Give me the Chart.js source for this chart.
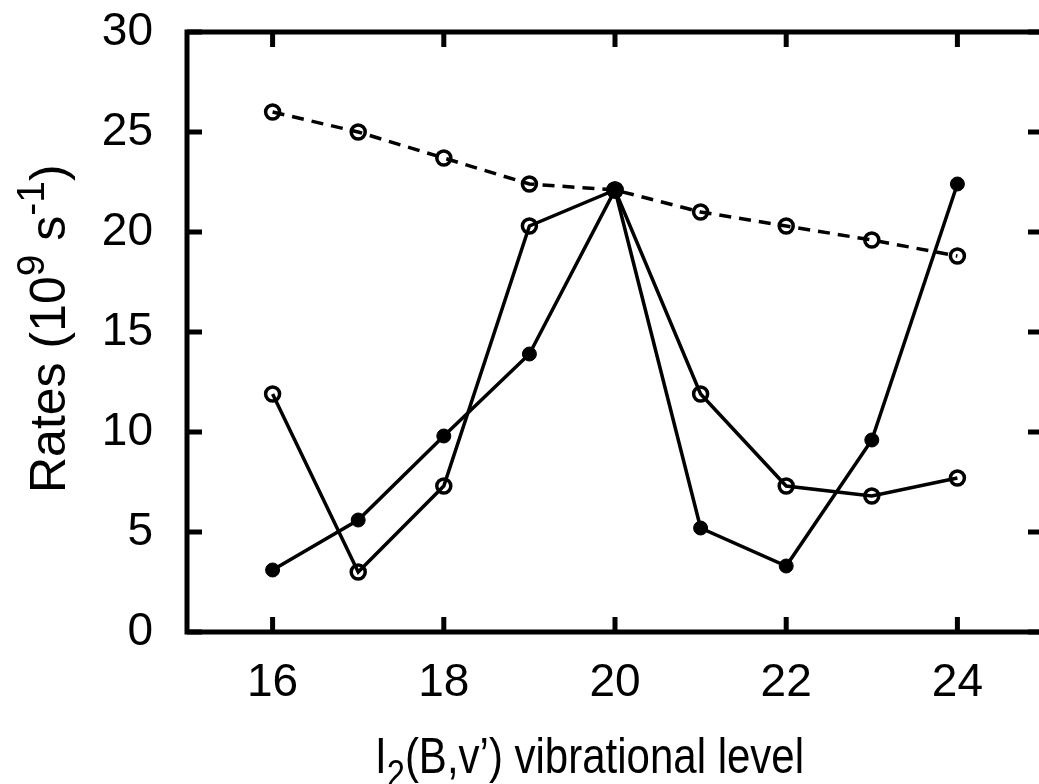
<!DOCTYPE html>
<html>
<head>
<meta charset="utf-8">
<script src="https://cdn.jsdelivr.net/npm/chart.js@4/dist/chart.umd.min.js"></script>
<style>
    html, body { margin: 0; padding: 0; background: #fff; overflow: hidden; }
    #wrap { position: absolute; left: 0; top: 0; width: 1048px; height: 784px; }
</style>
</head>
<body>
<div id="wrap"><canvas id="rateChart"></canvas></div>
<script>
// vibrational levels v'
const levels = [16, 17, 18, 19, 20, 21, 22, 23, 24];
// dashed curve, open circles
const dashedRates = [26.0, 25.0, 23.7, 22.4, 22.1, 21.0, 20.3, 19.6, 18.8];
// solid curve, open circles
const openRates = [11.9, 3.0, 7.3, 20.3, 22.1, 11.9, 7.3, 6.8, 7.7];
// solid curve, filled circles
const filledRates = [3.1, 5.6, 9.8, 13.9, 22.1, 5.2, 3.3, 9.6, 22.4];

const xTicks = [16, 18, 20, 22, 24];
const yTicks = [0, 5, 10, 15, 20, 25, 30];

const FONT = "'Liberation Sans', Arial, sans-serif";

function toPoints(ys) {
    return levels.map((x, i) => ({ x: x, y: ys[i] }));
}

// frame + inward ticks, like gnuplot's border
const framePlugin = {
    id: 'frame',
    afterDatasetsDraw(chart) {
        const ctx = chart.ctx;
        const a = chart.chartArea;
        const xs = chart.scales.x, ys = chart.scales.y;
        const tl = 15;
        ctx.save();
        ctx.strokeStyle = '#000';
        ctx.lineWidth = 5;
        ctx.beginPath();
        xTicks.forEach(v => {
            const px = xs.getPixelForValue(v);
            ctx.moveTo(px, a.bottom); ctx.lineTo(px, a.bottom - tl);
            ctx.moveTo(px, a.top); ctx.lineTo(px, a.top + tl);
        });
        yTicks.forEach(v => {
            const py = ys.getPixelForValue(v);
            ctx.moveTo(a.left, py); ctx.lineTo(a.left + tl, py);
            ctx.moveTo(a.right, py); ctx.lineTo(a.right - tl, py);
        });
        ctx.stroke();
        ctx.lineJoin = 'miter';
        ctx.strokeRect(a.left, a.top, a.right - a.left, a.bottom - a.top);
        ctx.restore();
    }
};

// axis titles with sub/superscripts
function drawRich(ctx, parts, x, y, size) {
    parts.forEach(p => {
        const s = p.t === 'n' ? size : size * 0.78;
        const dy = p.t === 'sub' ? size * 0.28 : (p.t === 'sup' ? -size * 0.42 : 0);
        ctx.font = s + 'px ' + FONT;
        ctx.fillText(p.s, x, y + dy);
        x += ctx.measureText(p.s).width;
    });
}

const titlePlugin = {
    id: 'titles',
    afterDraw(chart) {
        const ctx = chart.ctx;
        ctx.save();
        ctx.fillStyle = '#000';
        ctx.textBaseline = 'alphabetic';
        ctx.textAlign = 'left';
        // x title is a little taller than wide in the original
        ctx.save();
        ctx.scale(1, 1.2);
        drawRich(ctx, [
            { s: 'I', t: 'n' },
            { s: '2', t: 'sub' },
            { s: '(B,v\u2019) vibrational level', t: 'n' }
        ], 375, 773 / 1.2, 42);
        ctx.restore();
        ctx.translate(65, 493);
        ctx.rotate(-Math.PI / 2);
        drawRich(ctx, [
            { s: 'Rates (10', t: 'n' },
            { s: '9', t: 'sup' },
            { s: ' s', t: 'n' },
            { s: '-1', t: 'sup' },
            { s: ')', t: 'n' }
        ], 0, 0, 50);
        ctx.restore();
    }
};

const ctx = document.getElementById('rateChart').getContext('2d');
const rateChart = new Chart(ctx, {
    type: 'scatter',
    data: {
        datasets: [{
            data: toPoints(dashedRates),
            showLine: true,
            borderColor: '#000',
            borderWidth: 3.5,
            borderDash: [12, 8],
            pointRadius: 7,
            pointBorderWidth: 3.5,
            pointBorderColor: '#000',
            pointBackgroundColor: 'rgba(0,0,0,0)'
        }, {
            data: toPoints(openRates),
            showLine: true,
            borderColor: '#000',
            borderWidth: 3.5,
            pointRadius: 7,
            pointBorderWidth: 3.5,
            pointBorderColor: '#000',
            pointBackgroundColor: 'rgba(0,0,0,0)'
        }, {
            data: toPoints(filledRates),
            showLine: true,
            borderColor: '#000',
            borderWidth: 3.5,
            pointRadius: 7,
            pointBorderWidth: 1,
            pointBorderColor: '#000',
            pointBackgroundColor: '#000'
        }]
    },
    options: {
        responsive: true,
        maintainAspectRatio: false,
        animation: false,
        events: [],
        layout: { autoPadding: false, padding: { left: 0, top: 32, right: 5, bottom: 0 } },
        plugins: { legend: { display: false }, tooltip: { enabled: false } },
        scales: {
            x: {
                type: 'linear',
                min: 15,
                max: 25,
                grid: { display: false, drawTicks: false },
                border: { display: false },
                afterBuildTicks: s => { s.ticks = xTicks.map(v => ({ value: v })); },
                afterFit: s => { s.height = 152; s.paddingLeft = 0; s.paddingRight = 0; },
                ticks: { color: '#000', padding: 24, font: { family: FONT, size: 46 } }
            },
            y: {
                min: 0,
                max: 30,
                grid: { display: false, drawTicks: false },
                border: { display: false },
                afterBuildTicks: s => { s.ticks = yTicks.map(v => ({ value: v })); },
                afterFit: s => { s.width = 187; s.paddingTop = 0; s.paddingBottom = 0; },
                ticks: { color: '#000', padding: 34, font: { family: FONT, size: 46 } }
            }
        }
    },
    plugins: [framePlugin, titlePlugin]
});
</script>
</body>
</html>
